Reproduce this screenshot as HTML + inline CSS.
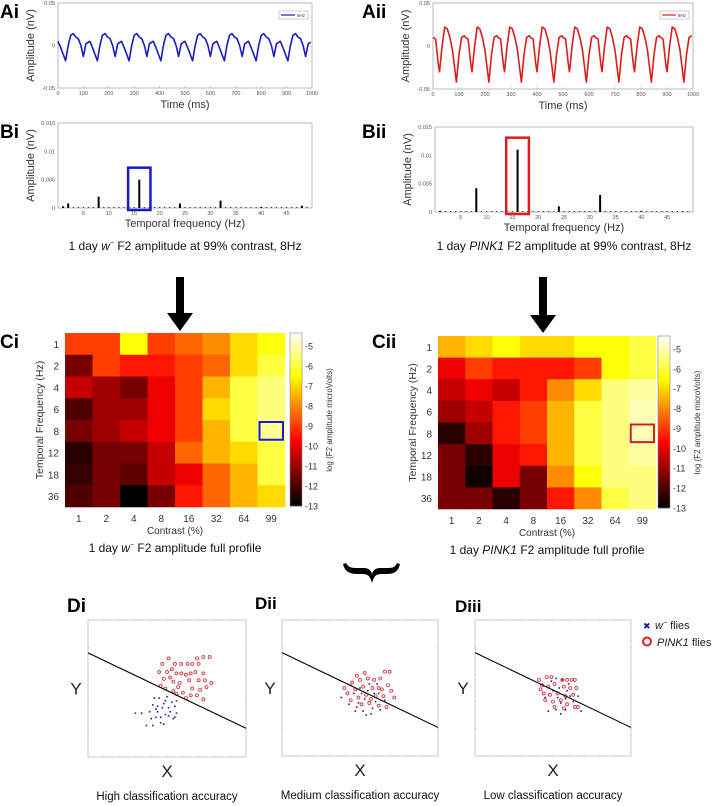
<!DOCTYPE html>
<html><head><meta charset="utf-8">
<style>
html,body{margin:0;padding:0;background:#fff;}
svg{display:block;font-family:"Liberation Sans",Arial,sans-serif;}
</style></head>
<body>
<svg id="fig" width="716" height="806" viewBox="0 0 716 806" xmlns="http://www.w3.org/2000/svg">
<g id="root"></g>
</svg>
<script>
// ---------- DATA ----------
// Waveform templates (one 125 ms cycle, t in ms, amplitude in nV)
const aiCycleT = [0,10,20,30,40,50,60,70,80,90,100,110,120];
const aiCycleV = [0.005,-0.002,-0.010,-0.018,0.000,0.012,0.014,0.010,0.008,0.000,-0.013,0.002,0.004];
const aiiCycleT = [0,10,20,25,35,45,55,65,75,85,90,100,110,120];
const aiiCycleV = [0.010,0.008,-0.020,-0.030,0.000,0.022,0.020,0.010,-0.005,-0.030,-0.042,-0.010,0.010,0.012];
const timeTicks = [0,100,200,300,400,500,600,700,800,900,1000];
const ampTicks = [-0.05,0,0.05];
// Spectra
const biFreqs = [1,2,8,16,24,32,40,48];
const biAmps = [0.0003,0.0008,0.002,0.005,0.0008,0.0013,0.0002,0.0004];
const biiFreqs = [1,8,16,24,32,40,48];
const biiAmps = [0.0002,0.0042,0.011,0.001,0.003,0.0002,0.0001];
const freqTicks = [5,10,15,20,25,30,35,40,45];
const specTicks = [0,0.005,0.01,0.015];
const specTickLabels = ["0","0.005","0.01","0.015"];
// Heatmaps
const contrasts = ["1","2","4","8","16","32","64","99"];
const tempFreqs = ["1","2","4","6","8","12","18","36"];
const ciValues = [
 [-9,-9,-6.5,-9,-8.5,-8,-7,-6.5],
 [-11.5,-9,-9.5,-9.5,-9,-8.5,-7,-6],
 [-10.5,-11,-11.5,-10,-9,-7.5,-6,-5.5],
 [-12,-11,-11,-10,-9,-7,-6,-5.5],
 [-11.5,-11,-10.5,-10,-9,-7.5,-6,-5.3],
 [-12.5,-11.5,-11.5,-10.5,-8.5,-7.5,-7,-6],
 [-12.3,-11.5,-11.8,-10.5,-10,-8.5,-7.5,-6],
 [-12,-11.5,-13,-11.5,-9.5,-8.5,-7.5,-7]];
const ciiValues = [
 [-7.5,-7,-6.5,-7,-7,-6.5,-6.5,-6],
 [-10,-9,-9.5,-9.5,-9.5,-9,-6.5,-6],
 [-10.5,-10,-10.5,-9.5,-8,-7,-5.5,-5.2],
 [-11,-10.5,-9.5,-9,-7.5,-6,-5.5,-5],
 [-12.5,-11,-9.5,-9,-7.5,-6,-5.5,-5],
 [-11.5,-12.5,-10,-9.5,-7.5,-6,-5.5,-5.2],
 [-11.5,-12.8,-10,-11.5,-8,-6.5,-5.5,-5.5],
 [-11.5,-11.5,-12.5,-11.5,-9.5,-8,-6,-5.5]];
const cbarTicks = [-5,-6,-7,-8,-9,-10,-11,-12,-13];
// Scatter (x,y in 0..10 units)
const diRed = [[4.7,6.8],[5.1,7.2],[5.5,6.8],[5.9,6.8],[6.3,6.8],[6.6,6.8],[7.0,6.8],[7.3,7.3],[7.7,7.3],[6.9,7.2],[5.3,6.4],[4.5,6.2],[5.0,6.2],[5.6,6.1],[6.2,6.0],[6.8,6.2],[7.3,6.1],[4.8,5.7],[5.4,5.5],[5.8,5.4],[6.4,5.6],[7.0,5.6],[7.4,5.6],[7.8,5.4],[4.9,5.0],[5.4,4.8],[5.7,5.1],[6.0,4.7],[6.6,5.0],[7.1,4.9],[7.5,5.1],[6.2,4.3],[6.5,4.5],[6.9,4.5],[7.3,4.2],[5.6,4.6],[5.9,6.1],[6.5,6.1],[4.6,5.2],[5.2,5.8]];
const diBlue = [[4.2,4.3],[4.5,4.3],[4.9,4.1],[5.3,4.0],[5.6,4.1],[4.1,3.8],[4.4,3.7],[4.7,3.6],[5.1,3.6],[5.5,3.7],[3.9,3.3],[4.4,3.3],[4.9,3.1],[5.2,3.3],[5.6,3.2],[3.0,3.2],[3.4,3.2],[4.0,2.8],[4.3,2.9],[4.6,2.9],[5.4,2.8],[3.7,2.3],[4.1,2.3],[4.8,2.4],[5.1,3.0],[4.8,3.9],[5.0,4.4],[4.3,3.5],[4.6,2.5],[5.5,2.9]];
const diiRed = [[4.0,5.0],[4.5,5.4],[5.0,5.6],[5.5,5.7],[5.9,5.6],[6.3,5.7],[6.6,6.2],[6.9,6.2],[4.2,4.6],[4.7,4.9],[5.2,5.1],[5.8,5.0],[6.2,5.0],[6.8,5.2],[7.0,4.8],[4.4,4.1],[4.9,4.3],[5.4,4.5],[6.0,4.4],[6.5,4.4],[7.2,4.3],[5.1,3.8],[5.6,3.9],[6.2,3.7],[6.7,3.6],[4.8,5.9],[5.3,6.1],[5.7,4.2],[6.4,4.9]];
const diiBlue = [[3.8,4.3],[4.3,3.8],[4.8,3.6],[5.2,3.3],[5.5,4.8],[5.9,4.6],[6.1,5.3],[5.0,5.0],[4.6,4.6],[5.3,4.2],[5.8,3.5],[6.3,3.4],[4.7,3.3],[5.4,3.0],[6.0,4.0],[6.6,4.1],[4.4,5.2],[5.1,4.6],[5.6,5.3],[6.2,4.6],[4.9,3.9],[5.7,3.1]];
const diiiRed = [[4.1,5.6],[4.6,5.8],[4.9,5.8],[5.6,5.6],[5.9,5.6],[6.2,5.6],[6.4,5.6],[4.3,5.2],[4.7,5.1],[5.1,5.3],[5.7,5.1],[6.1,5.0],[6.5,5.0],[4.4,4.6],[4.8,4.5],[5.3,4.6],[5.8,4.4],[6.3,4.5],[4.5,4.1],[5.0,4.0],[5.5,4.1],[5.9,3.8],[6.4,3.6],[5.1,3.6],[5.7,3.5],[6.6,3.6],[4.2,4.9]];
const diiiBlue = [[4.7,3.3],[5.2,3.4],[5.5,3.9],[5.8,4.2],[5.0,4.8],[5.4,5.0],[5.9,4.8],[6.1,4.4],[5.6,5.6],[4.9,5.5],[6.0,5.3],[5.3,4.3],[5.8,3.4],[6.3,4.0],[4.5,4.3],[6.6,4.4],[5.2,5.7],[6.8,3.3],[5.5,3.1]];
const boundaryY = [7.6,2.1];

// ---------- HELPERS ----------
const NS="http://www.w3.org/2000/svg";
const root=document.getElementById('root');
function el(tag,attrs,parent){const e=document.createElementNS(NS,tag);for(const k in attrs)e.setAttribute(k,attrs[k]);(parent||root).appendChild(e);return e;}
function txt(s,x,y,size,opts,parent){opts=opts||{};const t=el('text',{x:x,y:y,'font-size':size,'text-anchor':opts.anchor||'start',fill:opts.fill||'#222','font-weight':opts.bold?'bold':'normal'},parent);if(opts.rot)t.setAttribute('transform','rotate(-90 '+x+' '+y+')');if(opts.italic)t.setAttribute('font-style','italic');t.textContent=s;return t;}
function lin(d0,d1,p0,p1){return v=>p0+(v-d0)/(d1-d0)*(p1-p0);}

// ---------- PANEL LABELS ----------
[["Ai",0,18],["Aii",362,18],["Bi",0,138],["Bii",362,138],["Ci",0,348],["Cii",372,348],["Di",67,612],["Dii",255,609],["Diii",455,612]].forEach(p=>{
 const t=txt(p[0],p[1],p[2],p[0].length>2&&p[0][0]=='D'?17:19,{bold:true,fill:'#000'});
 
 
});

// ---------- WAVEFORMS ----------
function wave(name,x0,x1,y0,y1,cT,cV,color){
 const g=el('g',{});
 
 
 const sx=lin(0,1000,x0,x1), sy=lin(-0.05,0.05,y1,y0);
 el('rect',{x:x0,y:y0,width:x1-x0,height:y1-y0,fill:'#fff',stroke:'#aaa','stroke-width':0.8},g);
 timeTicks.forEach(t=>{txt(String(t),sx(t),y1+7,5.5,{anchor:'middle',fill:'#555'},g);el('line',{x1:sx(t),x2:sx(t),y1:y1,y2:y1-2,stroke:'#aaa','stroke-width':0.5},g);});
 ampTicks.forEach(a=>{txt(String(a),x0-3,sy(a)+2,5.5,{anchor:'end',fill:'#555'},g);});
 let pts=[];
 for(let c=0;c<8;c++){for(let i=0;i<cT.length;i++){const t=c*125+cT[i];if(t<=1000)pts.push(sx(t).toFixed(1)+','+sy(cV[i]).toFixed(1));}}
 const l=el('polyline',{points:pts.join(' '),fill:'none',stroke:color,'stroke-width':1.6,'stroke-linejoin':'round'},g);
 
 
 const lg=el('g',{},g);
 
 
 el('rect',{x:x1-33,y:y0+8,width:29,height:8,fill:'#fff',stroke:'#999','stroke-width':0.5},lg);
 el('line',{x1:x1-31,x2:x1-17,y1:y0+12,y2:y0+12,stroke:color,'stroke-width':1.2},lg);
 txt('8Hz',x1-15,y0+14,4.5,{fill:'#333'},lg);
 const yl=txt('Amplitude (nV)',x0-24,(y0+y1)/2,11,{anchor:'middle',rot:true,fill:'#333'},g);
 
 
 const xl=txt('Time (ms)',(x0+x1)/2,y1+20,11,{anchor:'middle',fill:'#333'},g);
 
 
}
wave('waveform-w',58,312,3,88,aiCycleT,aiCycleV,'#1a1acc');
wave('waveform-pink1',433,693,3,89,aiiCycleT,aiiCycleV,'#dd1c1c');

// ---------- SPECTRA ----------
function spectrum(name,x0,x1,y0,y1,freqs,amps,boxColor,boxF,caption,italicPart){
 const g=el('g',{});
 
 
 const sx=lin(0,50,x0,x1), sy=lin(0,0.015,y1,y0);
 el('rect',{x:x0,y:y0,width:x1-x0,height:y1-y0,fill:'#fff',stroke:'#aaa','stroke-width':0.8},g);
 specTicks.forEach((v,i)=>{txt(specTickLabels[i],x0-3,sy(v)+2,5.5,{anchor:'end',fill:'#555'},g);});
 freqTicks.forEach(f=>{txt(String(f),sx(f),y1+7,5.5,{anchor:'middle',fill:'#555'},g);});
 for(let f=1;f<=49;f++){el('rect',{x:sx(f)-0.6,y:y1-1,width:1.2,height:1,fill:'#333'},g);}
 freqs.forEach((f,i)=>{const b=el('rect',{x:sx(f)-1,y:sy(amps[i]),width:2,height:y1-sy(amps[i]),fill:'#000'},g);
  
  });
 const hb=el('rect',{x:sx(boxF-2.2),y:sy(amps[freqs.indexOf(boxF)])-12,width:sx(boxF+2.2)-sx(boxF-2.2),height:y1-sy(amps[freqs.indexOf(boxF)])+14,fill:'none',stroke:boxColor,'stroke-width':2.5},g);
 
 
 const yl=txt('Amplitude (nV)',x0-24,(y0+y1)/2,11,{anchor:'middle',rot:true,fill:'#333'},g);
 
 
 const xl=txt('Temporal frequency (Hz)',(x0+x1)/2,y1+19,11,{anchor:'middle',fill:'#333'},g);
 
 
 const c=el('text',{x:(x0+x1)/2,y:250,'font-size':12,'text-anchor':'middle',fill:'#111'},g);
 
 
 c.innerHTML=caption;
}
spectrum('spectrum-w',58,312,123,208,biFreqs,biAmps,'#1a1acc',16,'1 day <tspan font-style="italic">w</tspan><tspan font-size="7" dy="-5">−</tspan><tspan dy="5"> F2 amplitude at 99% contrast, 8Hz</tspan>');
spectrum('spectrum-pink1',435,693,127,212,biiFreqs,biiAmps,'#dd1c1c',16,'1 day <tspan font-style="italic">PINK1</tspan> F2 amplitude at 99% contrast, 8Hz');

// ---------- ARROWS ----------
function arrow(name,cx,y0,y1){const p=el('path',{d:`M${cx-4},${y0} L${cx+4},${y0} L${cx+4},${y1-18} L${cx+13},${y1-18} L${cx},${y1} L${cx-13},${y1-18} L${cx-4},${y1-18} Z`,fill:'#000'});
 
 }
arrow('arrow-ci',180,277,331);
arrow('arrow-cii',543,277,333);

// ---------- HEATMAPS ----------
function hot(v){let t=(v+13)/(13-4.4);t=Math.max(0,Math.min(1,t));
 const r=Math.min(1,t/0.375),gg=Math.max(0,Math.min(1,(t-0.375)/0.375)),b=Math.max(0,Math.min(1,(t-0.75)/0.25));
 return `rgb(${Math.round(r*255)},${Math.round(gg*255)},${Math.round(b*255)})`;}
function heatmap(name,x0,x1,y0,y1,vals,boxColor,cbx,caption){
 const g=el('g',{});
 
 
 const cw=(x1-x0)/contrasts.length, ch=(y1-y0)/tempFreqs.length;
 vals.forEach((row,r)=>row.forEach((v,c)=>{const cell=el('rect',{x:x0+c*cw,y:y0+r*ch,width:cw+0.3,height:ch+0.3,fill:hot(v)},g);
  
  }));
 tempFreqs.forEach((f,r)=>txt(f,x0-6,y0+(r+0.5)*ch+4,10,{anchor:'end',fill:'#333'},g));
 contrasts.forEach((c,i)=>txt(c,x0+(i+0.5)*cw,y1+15,10,{anchor:'middle',fill:'#333'},g));
 const xl=txt('Contrast (%)',(x0+x1)/2,y1+27,10,{anchor:'middle',fill:'#333'},g);
 
 
 const yl=txt('Temporal Frequency (Hz)',x0-22,(y0+y1)/2,10.5,{anchor:'middle',rot:true,fill:'#333'},g);
 
 
 const hb=el('rect',{x:x0+7*cw+2,y:y0+4*ch+2,width:cw-4,height:ch-4,fill:'none',stroke:boxColor,'stroke-width':2},g);
 
 
 // colorbar
 const cb=el('g',{},g);
 
 
 const sv=lin(-13,-4.35,y1-1,y0);
 for(let i=0;i<60;i++){const v=-13+i*(8.65/60);el('rect',{x:cbx,y:sv(v+8.65/60),width:12,height:sv(v)-sv(v+8.65/60)+0.4,fill:hot(v)},cb);}
 el('rect',{x:cbx,y:y0,width:12,height:y1-1-y0,fill:'none',stroke:'#888','stroke-width':0.6},cb);
 cbarTicks.forEach(t=>txt(String(t).replace('-','-'),cbx+15,sv(t)+3.5,9,{fill:'#333'},cb));
 txt('log (F2 amplitude microVolts)',cbx+42,(y0+y1)/2,8,{anchor:'middle',rot:true,fill:'#333'},cb);
 const c=el('text',{x:(x0+x1)/2,y:y1+45,'font-size':12,'text-anchor':'middle',fill:'#111'},g);
 
 
 c.innerHTML=caption;
}
heatmap('heatmap-w',65,285,333,507,ciValues,'#1a1acc',290,'1 day <tspan font-style="italic">w</tspan><tspan font-size="7" dy="-5">−</tspan><tspan dy="5"> F2 amplitude full profile</tspan>');
heatmap('heatmap-pink1',438,656,336,509,ciiValues,'#dd1c1c',658,'1 day <tspan font-style="italic">PINK1</tspan> F2 amplitude full profile');

// ---------- BRACE ----------
const br=el('path',{d:'M343,564 C345,572 350,574 358,574 L362,574 C368,574 370,576 372,583 C374,576 376,574 382,574 L386,574 C394,574 398,572 400,564 L397,563 C395,568 392,568 386,568 L380,568 C376,568 373,570 372,574 C371,570 368,568 364,568 L358,568 C352,568 349,568 346,563 Z',fill:'#000'});



// ---------- SCATTERS ----------
function scatter(name,x0,x1,y0,y1,red,blue,caption){
 const g=el('g',{});
 
 
 const sx=lin(0,10,x0,x1), sy=lin(0,10,y1,y0);
 el('rect',{x:x0,y:y0,width:x1-x0,height:y1-y0,fill:'#fff',stroke:'#bbb','stroke-width':0.8},g);
 for(let i=1;i<10;i++){el('line',{x1:sx(i),x2:sx(i),y1:y1,y2:y1-2,stroke:'#ccc','stroke-width':0.5},g);el('line',{x1:sx(i),x2:sx(i),y1:y0,y2:y0+2,stroke:'#ccc','stroke-width':0.5},g);}
 for(let i=1;i<5;i++){el('line',{x1:x0,x2:x0+2,y1:sy(i*2),y2:sy(i*2),stroke:'#ccc','stroke-width':0.5},g);el('line',{x1:x1,x2:x1-2,y1:sy(i*2),y2:sy(i*2),stroke:'#ccc','stroke-width':0.5},g);}
 red.forEach(p=>{const c=el('circle',{cx:sx(p[0]),cy:sy(p[1]),r:1.5,fill:'none',stroke:'#d42030','stroke-width':0.8},g);
  
  });
 blue.forEach(p=>{const c=el('rect',{x:sx(p[0])-0.8,y:sy(p[1])-0.8,width:1.6,height:1.6,fill:'#2020a0'},g);
  
  });
 const l=el('line',{x1:sx(0),y1:sy(boundaryY[0]),x2:sx(10),y2:sy(boundaryY[1]),stroke:'#000','stroke-width':1.1},g);
 
 
 txt('Y',x0-12,(y0+y1)/2+6,17,{anchor:'middle',fill:'#222'},g);
 txt('X',(x0+x1)/2,y1+20,17,{anchor:'middle',fill:'#222'},g);
 const c=txt(caption,(x0+x1)/2,y1+43,11.5,{anchor:'middle',fill:'#111'},g);
 
 
}
scatter('scatter-high',88,246,620,757,diRed,diBlue,'High classification accuracy');
scatter('scatter-medium',282,438,620,756,diiRed,diiBlue,'Medium classification accuracy');
scatter('scatter-low',475,631,620,756,diiiRed,diiiBlue,'Low classification accuracy');

// ---------- LEGEND ----------
const lg=el('g',{});


const e1=el('g',{},lg);


txt('✖',643,629,9,{fill:'#1a1aa0'},e1);
const t1=el('text',{x:655,y:629,'font-size':11,fill:'#222'},e1);
t1.innerHTML='<tspan font-style="italic">w</tspan><tspan font-size="7" dy="-4">−</tspan><tspan dy="4"> flies</tspan>';
const e2=el('g',{},lg);


el('circle',{cx:647,cy:641.5,r:4,fill:'none',stroke:'#d42030','stroke-width':2},e2);
const t2=el('text',{x:657,y:646,'font-size':11,fill:'#222'},e2);
t2.innerHTML='<tspan font-style="italic">PINK1</tspan> flies';
</script>
</body></html>
